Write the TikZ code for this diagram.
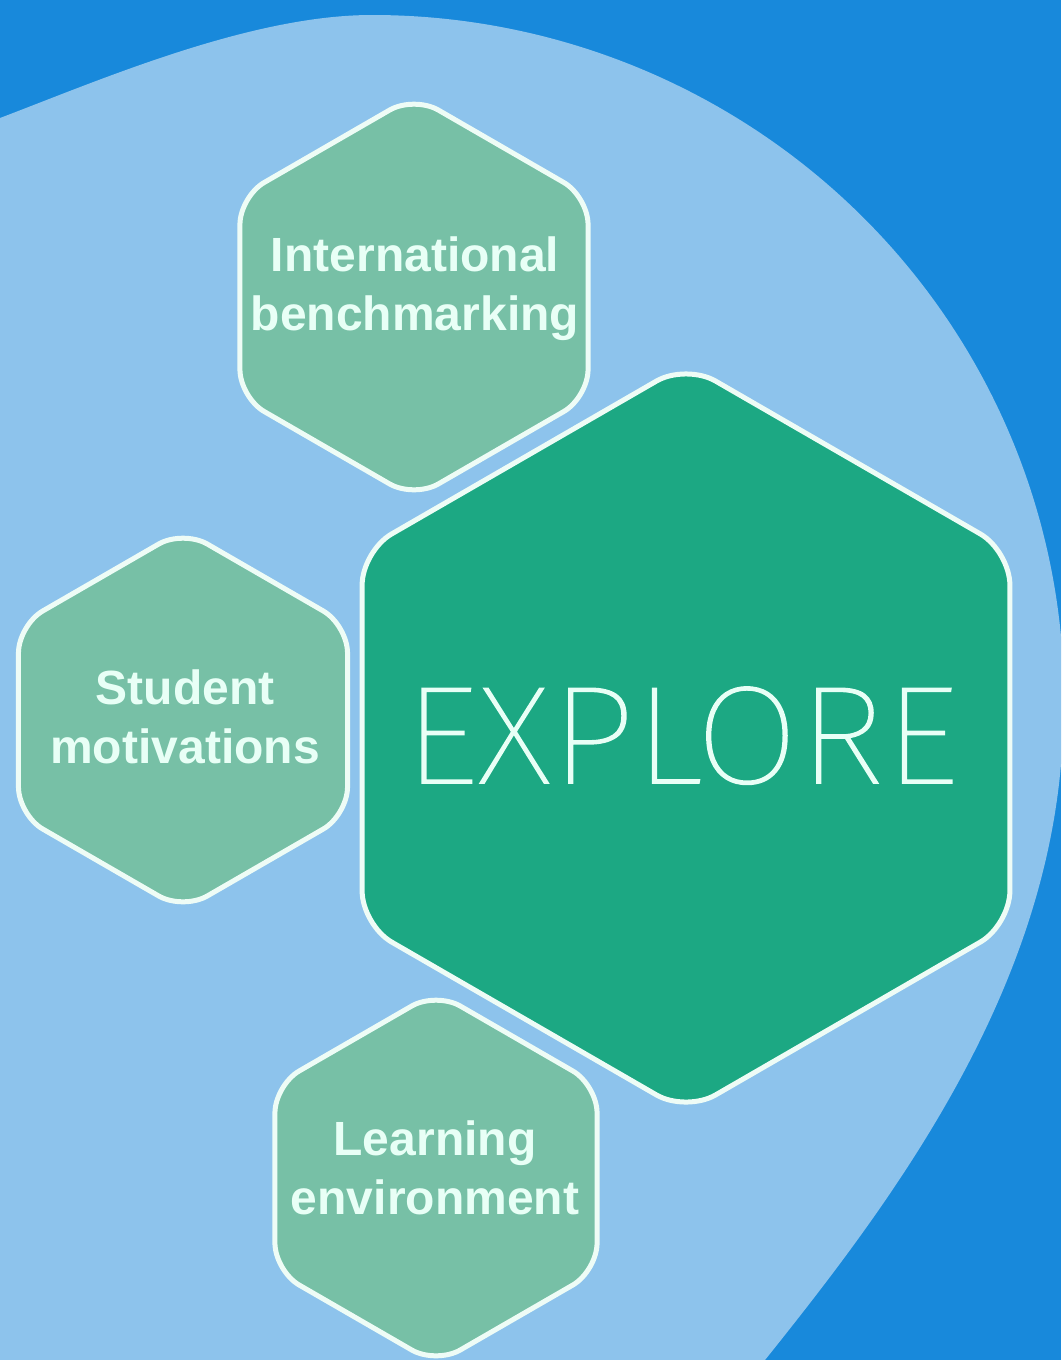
\documentclass[tikz,border=0pt]{standalone}
\usepackage{fontspec}
\setmainfont{Liberation Sans}
\IfFontExistsTF{Fira Sans Thin}{\def\thinname{Fira Sans Thin}}{%
 \IfFontExistsTF{Fira Sans ExtraLight}{\def\thinname{Fira Sans ExtraLight}}{%
  \IfFontExistsTF{Lato Hairline}{\def\thinname{Lato Hairline}}{%
   \IfFontExistsTF{Lato Light}{\def\thinname{Lato Light}}{%
    \IfFontExistsTF{Fira Sans Light}{\def\thinname{Fira Sans Light}}{%
     \IfFontExistsTF{DejaVu Sans ExtraLight}{\def\thinname{DejaVu Sans ExtraLight}}{%
      \def\thinname{Liberation Sans}}}}}}}
\newfontfamily\thinfont[FakeBold=1.2]{\thinname}
\definecolor{bgdark}{RGB}{24,137,219}
\definecolor{blobblue}{RGB}{141,195,236}
\definecolor{hexlight}{RGB}{119,192,166}
\definecolor{hexdark}{RGB}{28,168,131}
\definecolor{rim}{RGB}{238,252,246}
\definecolor{txtc}{RGB}{232,255,246}
\tikzset{
  smallhex/.style={fill=hexlight, draw=rim, line width=5pt, rounded corners=28pt},
  bighex/.style={fill=hexdark, draw=rim, line width=5pt, rounded corners=34pt},
  lbl/.style={text=txtc, font=\bfseries\fontsize{48}{59}\selectfont, align=center, inner sep=0pt},
  biglbl/.style={text=txtc, font=\thinfont\fontsize{139}{139}\selectfont, inner sep=0pt, anchor=base}
}
\newcommand{\hexshape}[5]{%
  \coordinate (#1) at (#2,#3);
  \draw[#5] ({#2},{#3-#4}) -- ++({0.866*#4},{0.5*#4}) -- ++(0,{#4})
    -- ++({-0.866*#4},{0.5*#4}) -- ++({-0.866*#4},{-0.5*#4}) -- ++(0,{-#4}) -- cycle;
}
\begin{document}
\begin{tikzpicture}[x=1pt,y=-1pt]
  \useasboundingbox (0,0) rectangle (1061,1360);
  \clip (0,0) rectangle (1061,1360);
  \fill[bgdark] (0,0) rectangle (1061,1360);
  % light blue blob
  \coordinate (blobleft) at (0,118);
  \coordinate (blobtop) at (372,15);
  \fill[blobblue] (-30,135) -- (blobleft)
    .. controls (100,80) and (250,15) .. (blobtop)
    arc[start angle=-90, end angle=5, x radius=692, y radius=685]
    .. controls (1042,1005) and (885,1210) .. (765,1360)
    -- (743,1390) -- (-30,1390) -- cycle;
  % hexagons
  \hexshape{intlhex}{414}{297}{201}{smallhex}
  \hexshape{studhex}{183}{720}{190}{smallhex}
  \hexshape{learnhex}{436}{1178}{186}{smallhex}
  \hexshape{explhex}{686}{738}{374}{bighex}
  % labels
  \node[lbl] (intltext) at (415,288.5) {International\\benchmarking};
  \node[lbl] (studtext) at (185,716.5) {Student\\motivations};
  \node[lbl] (learntext) at (435,1167.5) {Learning\\environment};
  \node[biglbl] (expltext) at (681,783) {\scalebox{1.078}[1]{EXPLORE}};
\end{tikzpicture}
\end{document}
